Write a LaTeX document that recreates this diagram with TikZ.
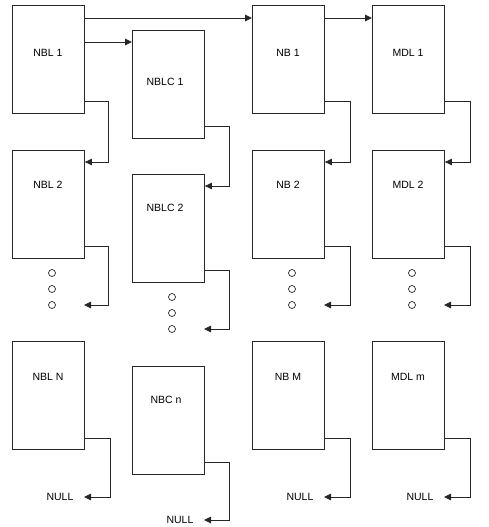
\documentclass[tikz,border=0pt]{standalone}
\usepackage{fontspec}
\setmainfont{Liberation Sans}
\usetikzlibrary{arrows.meta,calc}
\begin{document}
\begin{tikzpicture}[x=1pt,y=-1pt,
  box/.style={draw=black!85,line width=0.9pt,minimum width=72pt,minimum height=108pt,anchor=north west,inner sep=0pt},
  lbl/.style={font=\fontsize{10.5}{12}\selectfont,inner sep=0pt},
  conn/.style={draw=black!85,line width=0.9pt,-{Triangle[length=7pt,width=6.5pt]}},
  dot/.style={circle,draw=black!85,line width=0.7pt,minimum size=7pt,inner sep=0pt}]
\useasboundingbox (0,0) rectangle (489,527);
% boxes
\node[box] (nbl1) at (12,5) {};
\node[box] (nbl2) at (12,150) {};
\node[box] (nbln) at (12,341) {};
\node[box] (nblc1) at (132,30) {};
\node[box] (nblc2) at (132,174) {};
\node[box] (nbcn) at (132,366) {};
\node[box] (nb1) at (252,5) {};
\node[box] (nb2) at (252,150) {};
\node[box] (nbm) at (252,341) {};
\node[box] (mdl1) at (372,5) {};
\node[box] (mdl2) at (372,150) {};
\node[box] (mdlm) at (372,341) {};
% labels
\node[lbl] (t1) at (48,53) {NBL 1};
\node[lbl] (t2) at (48,185) {NBL 2};
\node[lbl] (t3) at (48,377) {NBL N};
\node[lbl] (t4) at (165,82) {NBLC 1};
\node[lbl] (t5) at (165,208) {NBLC 2};
\node[lbl] (t6) at (166,400) {NBC n};
\node[lbl] (t7) at (288,53) {NB 1};
\node[lbl] (t8) at (288,185) {NB 2};
\node[lbl] (t9) at (288,377) {NB M};
\node[lbl] (t10) at (408,53) {MDL 1};
\node[lbl] (t11) at (408,185) {MDL 2};
\node[lbl] (t12) at (408,377) {MDL m};
% NULL labels
\node[lbl] (n1) at (60,497) {NULL};
\node[lbl] (n2) at (180,520) {NULL};
\node[lbl] (n3) at (300,497) {NULL};
\node[lbl] (n4) at (420,497) {NULL};
\coordinate (e1) at (84,497);
\coordinate (e2) at (204,520);
\coordinate (e3) at (324,497);
\coordinate (e4) at (444,497);
% dots
\foreach \cx/\cy/\k in {52/273/a,172/297/b,292/273/c,412/273/d}{
  \node[dot] (\k1) at (\cx,\cy) {};
  \node[dot] (\k2) at (\cx,\cy+16) {};
  \node[dot] (\k3) at (\cx,\cy+32) {};
}
\coordinate (da) at (84,305);
\coordinate (db) at (204,329);
\coordinate (dc) at (324,305);
\coordinate (dd) at (444,305);
% top connectors
\draw[conn] ([yshift=-13pt]nbl1.north east) -- ([yshift=-13pt]nb1.north west);
\draw[conn] ([yshift=-37pt]nbl1.north east) -- ([yshift=-12pt]nblc1.north west);
\draw[conn] ([yshift=-13pt]nb1.north east) -- ([yshift=-13pt]mdl1.north west);
% vertical chains
\draw[conn] ([yshift=12pt]nbl1.south east) -- ++(24,0) |- ([yshift=-12pt]nbl2.north east);
\draw[conn] ([yshift=12pt]nbl2.south east) -- ++(24,0) |- (da);
\draw[conn] ([yshift=11pt]nbln.south east) -- ++(26,0) |- (e1);
\draw[conn] ([yshift=12pt]nblc1.south east) -- ++(25,0) |- ([yshift=-12pt]nblc2.north east);
\draw[conn] ([yshift=12pt]nblc2.south east) -- ++(25,0) |- (db);
\draw[conn] ([yshift=12pt]nbcn.south east) -- ++(25,0) |- (e2);
\draw[conn] ([yshift=12pt]nb1.south east) -- ++(26,0) |- ([yshift=-12pt]nb2.north east);
\draw[conn] ([yshift=12pt]nb2.south east) -- ++(26,0) |- (dc);
\draw[conn] ([yshift=11pt]nbm.south east) -- ++(26,0) |- (e3);
\draw[conn] ([yshift=12pt]mdl1.south east) -- ++(26,0) |- ([yshift=-12pt]mdl2.north east);
\draw[conn] ([yshift=12pt]mdl2.south east) -- ++(26,0) |- (dd);
\draw[conn] ([yshift=11pt]mdlm.south east) -- ++(26,0) |- (e4);
\end{tikzpicture}
\end{document}
